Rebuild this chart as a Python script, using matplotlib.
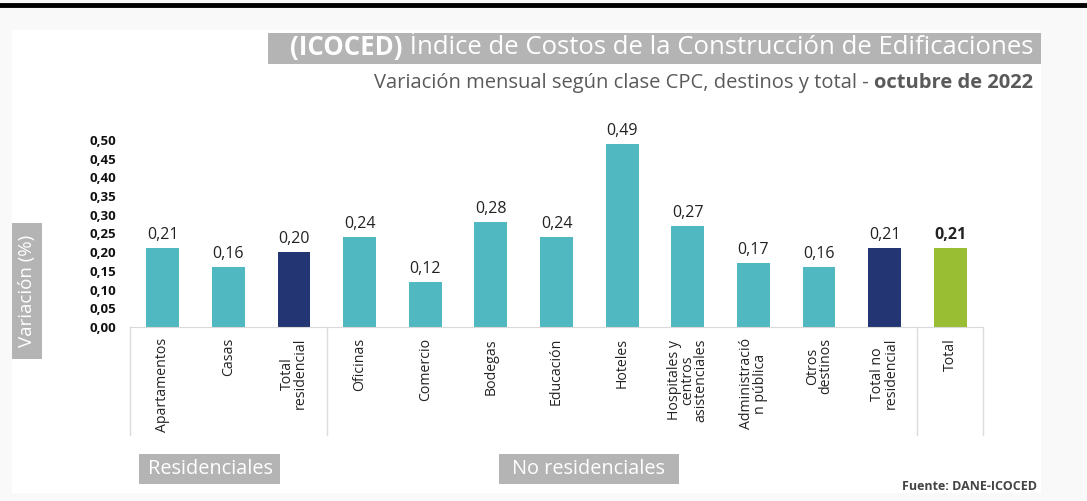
import matplotlib

matplotlib.use("Agg")
from matplotlib import pyplot as plt
from matplotlib.patches import Rectangle
from matplotlib.transforms import blended_transform_factory

W, H = 1087, 501

categories = [
    "Apartamentos", "Casas", "Total\nresidencial", "Oficinas", "Comercio",
    "Bodegas", "Educación", "Hoteles", "Hospitales y\ncentros\nasistenciales",
    "Administració\nn pública", "Otros\ndestinos", "Total no\nresidencial", "Total",
]
values = [0.21, 0.16, 0.20, 0.24, 0.12, 0.28, 0.24, 0.49, 0.27, 0.17, 0.16, 0.21, 0.21]
kinds = ["destino", "destino", "subtotal"] + ["destino"] * 8 + ["subtotal", "total"]
yticks = [0.00, 0.05, 0.10, 0.15, 0.20, 0.25, 0.30, 0.35, 0.40, 0.45, 0.50]

title_bold = "(ICOCED)"
title_rest = " Índice de Costos de la Construcción de Edificaciones"
subtitle_rest = "Variación mensual según clase CPC, destinos y total - "
subtitle_bold = "octubre de 2022"
ylabel = "Variación (%)"
group_labels = ["Residenciales", "No residenciales"]
source = "Fuente: DANE-ICOCED"

COLORS = {"destino": "#50b8c1", "subtotal": "#243573", "total": "#99bd33"}
BOX_GRAY = "#b4b4b4"

plt.rcParams["font.family"] = ["Open Sans", "DejaVu Sans"]


def fx(x):
    return x / W


def fy(y):
    return 1 - y / H


def px_box(fig, x0, y0, x1, y1, color, z=0):
    fig.patches.append(
        Rectangle((fx(x0), fy(y1)), fx(x1) - fx(x0), fy(y0) - fy(y1),
                  transform=fig.transFigure, facecolor=color, edgecolor="none", zorder=z)
    )


def two_part(fig, x_right, y, left, right, left_kw, right_kw):
    # right-aligned pair of texts with different weights
    renderer = fig.canvas.get_renderer()
    t_right = fig.text(fx(x_right), fy(y), right, ha="right", va="center", **right_kw)
    bb = t_right.get_window_extent(renderer)
    fig.text(bb.x0 / W, fy(y), left, ha="right", va="center", **left_kw)


fig = plt.figure(figsize=(W / 100, H / 100), dpi=100, facecolor="#f9f9f9")

# white panel and top rule
px_box(fig, 12, 30, 1041, 493, "white", z=-2)
fig.add_artist(plt.Line2D([0, 1], [fy(5), fy(5)], transform=fig.transFigure,
                          color="black", linewidth=3.5))

ax = fig.add_axes([fx(130), fy(327), fx(983) - fx(130), fy(140) - fy(327)])
ax.set_facecolor("none")

positions = list(range(len(categories)))
colors = [COLORS[k] for k in kinds]
ax.bar(positions, values, width=0.5, color=colors)

for pos, val, kind in zip(positions, values, kinds):
    ax.text(pos, val + 0.014, f"{val:.2f}".replace(".", ","), ha="center", va="bottom",
            fontsize=11.5, color="#222222",
            fontweight="bold" if kind == "total" else "normal")

ax.set_xlim(-0.5, len(categories) - 0.5)
ax.set_ylim(0, 0.5)
ax.set_yticks(yticks)
ax.set_yticklabels([f"{t:.2f}".replace(".", ",") for t in yticks],
                   fontsize=9.5, fontweight="bold", color="#111111")
ax.set_xticks(positions)
ax.set_xticklabels(categories, rotation=90, fontsize=10.2, color="#222222",
                   multialignment="center", linespacing=0.85)
ax.tick_params(axis="both", length=0)
ax.tick_params(axis="x", pad=8)
ax.tick_params(axis="y", pad=10)
for side in ("top", "right", "left"):
    ax.spines[side].set_visible(False)
ax.spines["bottom"].set_color("#d9d9d9")

# group separators under the axis
trans = blended_transform_factory(ax.transData, ax.transAxes)
for xs in (-0.5, 2.5, 11.5, 12.5):
    ax.plot([xs, xs], [0, -0.58], transform=trans, color="#dcdcdc",
            linewidth=1, clip_on=False)

# title block
px_box(fig, 268, 33, 1041, 64, BOX_GRAY)
two_part(fig, 1033, 48, title_bold, title_rest,
         dict(fontsize=18.5, fontweight="bold", color="white"),
         dict(fontsize=18.5, color="white"))
two_part(fig, 1033, 83, subtitle_rest, subtitle_bold,
         dict(fontsize=14.5, color="#5a5a5a"),
         dict(fontsize=14.5, fontweight="bold", color="#5a5a5a"))

# y label
px_box(fig, 12, 223, 42, 359, BOX_GRAY)
fig.text(fx(27), fy(291), ylabel, rotation=90, ha="center", va="center",
         fontsize=13.5, color="white")

# group labels
px_box(fig, 139, 454, 280, 484, BOX_GRAY)
fig.text(fx(210), fy(469), group_labels[0], ha="center", va="center",
         fontsize=14.3, color="white")
px_box(fig, 499, 454, 679, 484, BOX_GRAY)
fig.text(fx(589), fy(469), group_labels[1], ha="center", va="center",
         fontsize=14.3, color="white")

fig.text(fx(1037), fy(486), source, ha="right", va="center",
         fontsize=9, fontweight="bold", color="#444444")

fig.savefig("out.png", dpi=100, facecolor=fig.get_facecolor())
